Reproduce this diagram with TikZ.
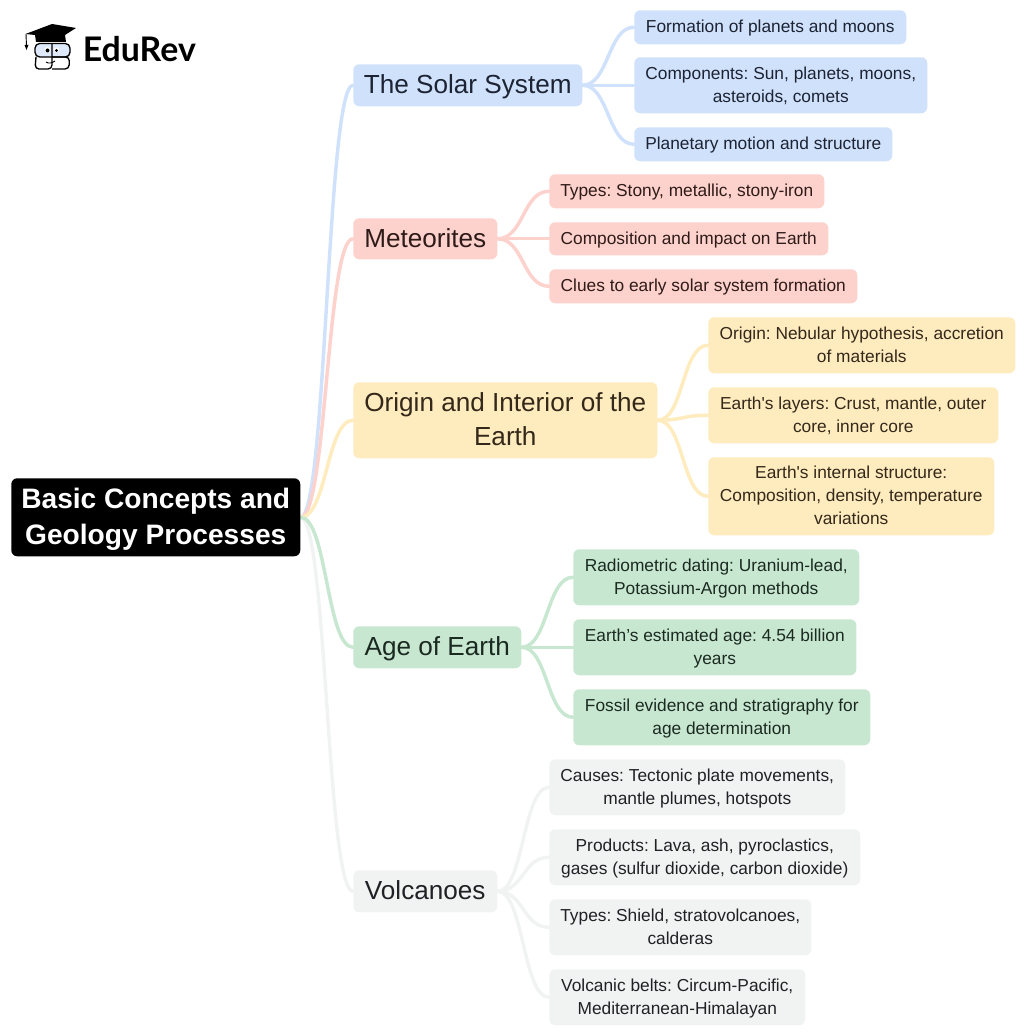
\documentclass[tikz,border=0pt]{standalone}
\usepackage{fontspec}
\newfontfamily\basefont{Liberation Sans}
\newfontfamily\logofont{Lato}
\definecolor{cblue}{HTML}{D0E1FB}\definecolor{cred}{HTML}{FDD1CC}\definecolor{cyel}{HTML}{FEEBBE}
\definecolor{cgrn}{HTML}{C8E7D1}\definecolor{cgry}{HTML}{F1F3F3}\definecolor{ctxt}{HTML}{202124}
\definecolor{tblue}{HTML}{1C2333}\definecolor{tred}{HTML}{2E1B18}\definecolor{tyel}{HTML}{33281A}
\definecolor{tgrn}{HTML}{1B2A21}
\pgfdeclarelayer{back}\pgfsetlayers{back,main}
\frenchspacing
\tikzset{
 box/.style={rounded corners=4.5pt,inner sep=0pt,align=center,text=ctxt},
 leaf/.style={box,font=\basefont\frenchspacing\fontsize{13}{17.25}\selectfont},
 topic/.style={box,font=\basefont\frenchspacing\fontsize{19.6}{25.5}\selectfont},
 rootbox/.style={box,fill=black,text=white,font=\basefont\frenchspacing\fontsize{21.1}{27.2}\selectfont\bfseries},
 link/.style={line width=2.6pt,line cap=round},
 bblue/.style={fill=cblue,text=tblue},
 bred/.style={fill=cred,text=tred},
 byel/.style={fill=cyel,text=tyel},
 bgrn/.style={fill=cgrn,text=tgrn},
 bgry/.style={fill=cgry},
}
% \bx{name}{style}{x1}{y1}{x2}{y2}{text}
\newcommand{\bx}[7]{%
 \pgfmathsetmacro{\bw}{(#5-#3)*0.75}\pgfmathsetmacro{\bh}{(#6-#4)*0.75}%
 \node[#2,minimum width=\bw pt,minimum height=\bh pt,anchor=north west] (#1) at (#3,#4) {\rule{0pt}{0.86em}#7\rule[-0.21em]{0pt}{0.21em}};}
\newcommand{\lk}[3]{\draw[link,#1] (#2.east) .. controls ([xshift=19.7pt]#2.east) and ([xshift=-19.7pt]#3.west) .. (#3.west);}
\begin{document}
\begin{tikzpicture}[x=0.75pt,y=-0.75pt]
\useasboundingbox (0,0) rectangle (1024,1034);
\bx{root}{rootbox}{11}{478}{300}{556}{Basic Concepts and\\Geology Processes}
\bx{sol}{topic,bblue}{353}{64}{582}{106}{The Solar System}
\bx{s1}{leaf,bblue}{634}{10}{906}{44}{Formation of planets and moons}
\bx{s2}{leaf,bblue}{634}{57}{927}{113}{Components: Sun, planets, moons,\\asteroids, comets}
\bx{s3}{leaf,bblue}{634}{127}{892}{161}{Planetary motion and structure}
\bx{met}{topic,bred}{353}{218}{497}{259}{Meteorites}
\bx{m1}{leaf,bred}{549}{174}{824}{208}{Types: Stony, metallic, stony-iron}
\bx{m2}{leaf,bred}{549}{222}{828}{255}{Composition and impact on Earth}
\bx{m3}{leaf,bred}{549}{269}{857}{303}{Clues to early solar system formation}
\bx{ori}{topic,byel}{353}{382}{657}{458}{Origin and Interior of the\\Earth}
\bx{o1}{leaf,byel}{708}{317}{1015}{373}{Origin: Nebular hypothesis, accretion\\of materials}
\bx{o2}{leaf,byel}{708}{387}{998}{443}{Earth's layers: Crust, mantle, outer\\core, inner core}
\bx{o3}{leaf,byel}{708}{457}{994}{535}{Earth's internal structure:\\Composition, density, temperature\\variations}
\bx{age}{topic,bgrn}{353}{626}{521}{668}{Age of Earth}
\bx{a1}{leaf,bgrn}{573}{549}{859}{605}{Radiometric dating: Uranium-lead,\\Potassium-Argon methods}
\bx{a2}{leaf,bgrn}{573}{619}{856}{675}{Earth’s estimated age: 4.54 billion\\years}
\bx{a3}{leaf,bgrn}{573}{689}{870}{745}{Fossil evidence and stratigraphy for\\age determination}
\bx{vol}{topic,bgry}{353}{870}{497}{912}{Volcanoes}
\bx{v1}{leaf,bgry}{549}{759}{845}{815}{Causes: Tectonic plate movements,\\mantle plumes, hotspots}
\bx{v2}{leaf,bgry}{549}{829}{860}{885}{Products: Lava, ash, pyroclastics,\\gases (sulfur dioxide, carbon dioxide)}
\bx{v3}{leaf,bgry}{549}{899}{811}{955}{Types: Shield, stratovolcanoes,\\calderas}
\bx{v4}{leaf,bgry}{549}{969}{805}{1025}{Volcanic belts: Circum-Pacific,\\Mediterranean-Himalayan}
\begin{pgfonlayer}{back}
\lk{cblue}{root}{sol}
\lk{cred}{root}{met}
\lk{cyel}{root}{ori}
\lk{cgry}{root}{vol}
\lk{cgrn}{root}{age}
\foreach \c in {s1,s2,s3}{\lk{cblue}{sol}{\c}}
\foreach \c in {m1,m2,m3}{\lk{cred}{met}{\c}}
\foreach \c in {o1,o2,o3}{\lk{cyel}{ori}{\c}}
\foreach \c in {a1,a2,a3}{\lk{cgrn}{age}{\c}}
\foreach \c in {v1,v2,v3,v4}{\lk{cgry}{vol}{\c}}
\end{pgfonlayer}
% logo
\fill[black] (25.5,34) -- (52,24) -- (76,28) -- (65,35) -- (66,42) -- (36,42) -- (35,35) -- cycle;
\draw[black,line width=0.7pt] (26,34) -- (26.5,46);
\fill[black] (24.5,45) -- (28.5,45) -- (26.5,50) -- cycle;
\draw[black,fill=cblue!70,line width=1pt,rounded corners=3.5pt] (35,43.5) rectangle (70,57);
\draw[black,line width=1pt,rounded corners=3pt] (36,57) -- (35,69) -- (52,69) -- (52,43.5) (52,57) -- (69.5,57) -- (69,69) -- (52,69);
\fill[white] (47.5,50) circle (3) (56.5,50) circle (2.6);
\fill[black] (47.5,50.5) circle (2) (56.5,50.5) circle (1.7);
\draw[black,line width=0.7pt] (46,62) .. controls (49,64) and (52,63) .. (55,61);
\node[anchor=base west,inner sep=0pt,text=black,font=\logofont\fontsize{25.4}{25.4}\selectfont\bfseries] (logo) at (82.5,62) {EduRev};
\end{tikzpicture}
\end{document}
